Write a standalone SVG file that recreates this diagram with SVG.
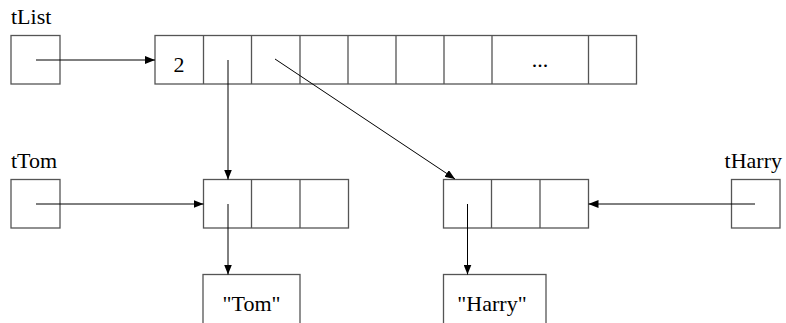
<svg xmlns="http://www.w3.org/2000/svg" width="786" height="323" viewBox="0 0 786 323">
<defs>
<style>
.box{fill:#fff;stroke:#555;stroke-width:1.3}
.cell{fill:none;stroke:#555;stroke-width:1.3}
text{font-family:'Liberation Serif','Times New Roman',serif;font-size:22px;fill:#000}
.con{stroke:#000;stroke-width:1;fill:none;marker-end:url(#ah)}
</style>
<marker id="ah" viewBox="0 0 10 8" refX="10" refY="4" markerWidth="10" markerHeight="8" markerUnits="userSpaceOnUse" orient="auto">
<path d="M0,0 L10,4 L0,8 z" fill="#000"/>
</marker>
</defs>
<rect width="786" height="323" fill="#fff"/>
<g id="tList">
<text font-family="Liberation Serif, serif" x="11" y="24">tList</text>
<rect class="box" x="11" y="35.5" width="49" height="48.5"/>
</g>
<g id="listArray">
<rect class="box" x="155" y="35.5" width="481.5" height="48.5"/>
<path class="cell" d="M203.5,35.5V84 M251.5,35.5V84 M300,35.5V84 M348,35.5V84 M396,35.5V84 M444,35.5V84 M492,35.5V84 M588.5,35.5V84"/>
<text font-family="Liberation Serif, serif" x="179" y="72" text-anchor="middle">2</text>
<text font-family="Liberation Serif, serif" x="540" y="67" text-anchor="middle">...</text>
</g>
<g id="tTom">
<text font-family="Liberation Serif, serif" x="11" y="168">tTom</text>
<rect class="box" x="11" y="179.5" width="49" height="48.5"/>
</g>
<g id="tomArray">
<rect class="box" x="203.5" y="179.5" width="145" height="48.5"/>
<path class="cell" d="M251.5,179.5V228 M300,179.5V228"/>
</g>
<g id="harryArray">
<rect class="box" x="443.5" y="179.5" width="145" height="48.5"/>
<path class="cell" d="M491.5,179.5V228 M540,179.5V228"/>
</g>
<g id="tHarry">
<text font-family="Liberation Serif, serif" x="782" y="168" text-anchor="end">tHarry</text>
<rect class="box" x="731.5" y="179.5" width="48.5" height="48.5"/>
</g>
<g id="tomString">
<rect class="box" x="203" y="274.5" width="97" height="60"/>
<text font-family="Liberation Serif, serif" x="251.5" y="311" text-anchor="middle">"Tom"</text>
</g>
<g id="harryString">
<rect class="box" x="443.5" y="274.5" width="102.5" height="60"/>
<text font-family="Liberation Serif, serif" x="492" y="311" text-anchor="middle">"Harry"</text>
</g>
<g id="connectors">
<line class="con" x1="36" y1="60" x2="155" y2="60"/>
<line class="con" x1="228" y1="60" x2="228" y2="179.5"/>
<line class="con" x1="275" y1="59" x2="455" y2="179"/>
<line class="con" x1="36" y1="204" x2="203.5" y2="204"/>
<line class="con" x1="755" y1="204" x2="588.5" y2="204"/>
<line class="con" x1="228" y1="204" x2="228" y2="274.5"/>
<line class="con" x1="467.5" y1="204" x2="467.5" y2="274.5"/>
</g>
</svg>
